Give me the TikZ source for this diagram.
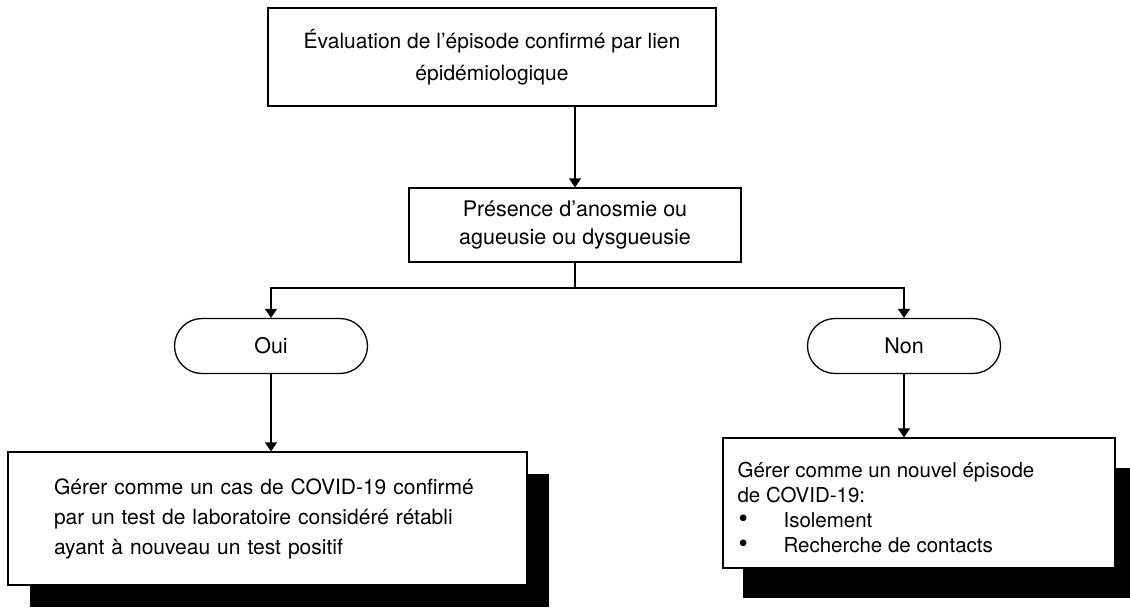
\documentclass[tikz,border=0pt]{standalone}
\usepackage{fontspec}
\setmainfont{TeX Gyre Heros}
\usetikzlibrary{arrows.meta,shapes.misc,shadows}
\newcommand{\bigdot}{\makebox[46pt][l]{\hspace{1pt}\scalebox{1.3}{\textbullet}}}
\begin{document}
\begin{tikzpicture}[x=1pt,y=-1pt,
  ln/.style={line width=1.3pt},
  arr/.style={line width=1.3pt,-{Triangle[width=12pt,length=9pt]}},
  box/.style={draw,line width=1.3pt,fill=white,inner sep=0pt,align=center},
  term/.style={draw,rounded rectangle,line width=1.3pt,fill=white,inner sep=0pt,minimum width=193pt,minimum height=55pt,font=\fontsize{21.5}{26}\selectfont},
  leftshadow/.style={box,align=left,general shadow={fill=black,shadow xshift=22pt,shadow yshift=-22pt}},
  rightshadow/.style={box,general shadow={fill=black,shadow xshift=20pt,shadow yshift=-30pt}},
  plain/.style={inner sep=0pt,align=left}
]
\useasboundingbox (0,0) rectangle (1130,614);

\node[box,minimum width=448pt,minimum height=98pt,font=\fontsize{21}{32}\selectfont] (top) at (492,57)
  {Évaluation de l’épisode confirmé par lien\\épidémiologique};
\node[box,minimum width=332pt,minimum height=74pt,font=\fontsize{21.5}{28}\selectfont] (q) at (575,225)
  {Présence d’anosmie ou\\agueusie ou dysgueusie};
\node[term] (oui) at (271,346) {Oui};
\node[term] (non) at (904,346) {Non};

\node[leftshadow,minimum height=133pt,text width=427pt,inner xsep=46pt,font=\fontsize{21}{30}\selectfont] (left) at (267.5,518.5)
  {Gérer comme un cas de COVID-19 confirmé\\par un test de laboratoire considéré rétabli\\ayant à nouveau un test positif};
\node[rightshadow,minimum width=392pt,minimum height=130pt] (right) at (919,503) {};
\node[plain,anchor=north west,font=\fontsize{20.5}{25}\selectfont] (righttext) at ([shift={(15,25)}]right.north west)
  {Gérer comme un nouvel épisode\\de COVID-19:\\\bigdot Isolement\\\bigdot Recherche de contacts};

\coordinate (split) at (575,288);
\draw[arr] (top.south -| q.north) -- (q.north);
\draw[ln] (q.south) -- (split);
\draw[arr] (split) -| (oui.north);
\draw[arr] (split) -| (non.north);
\draw[arr] (oui.south) -- (oui.south |- left.north);
\draw[arr] (non.south) -- (non.south |- right.north);
\end{tikzpicture}
\end{document}
